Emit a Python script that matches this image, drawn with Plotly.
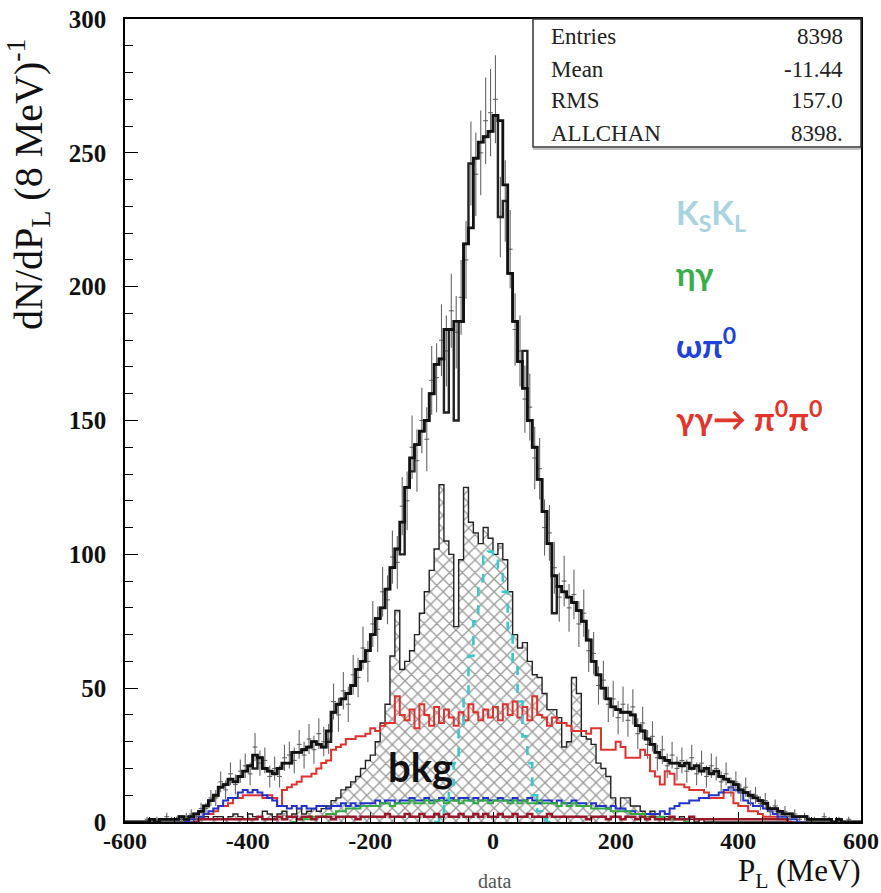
import plotly.graph_objects as go
import math

# ---------------- data (8 MeV bins from -600 to 600) ----------------
BIN_LO = -600
BIN_W = 8
N_BINS = 150

mc_total = [
    0, 0, 0, 0, 0, 1, 0, 1, 1, 1,
    1, 2, 1, 2, 3, 4, 6, 8, 10, 13,
    14, 16, 15, 17, 19, 21, 25, 24, 20, 19,
    18, 20, 22, 22, 26, 26, 27, 28, 30, 29,
    28, 34, 41, 44, 46, 48, 51, 57, 60, 64,
    70, 76, 80, 87, 95, 102, 112, 125, 136, 141,
    146, 150, 160, 171, 173, 184, 184, 187, 187, 216,
    222, 248, 254, 256, 258, 264, 262, 238, 205, 187,
    172, 162, 150, 140, 128, 116, 104, 92, 88, 86,
    84, 82, 79, 75, 68, 60, 55, 50, 46, 43,
    42, 41, 41, 40, 36, 34, 31, 29, 26, 24,
    23, 22, 22, 21, 22, 20, 21, 19, 20, 18,
    19, 17, 16, 15, 14, 12, 11, 10, 9, 8,
    7, 5, 5, 4, 3, 3, 2, 2, 2, 1,
    1, 1, 1, 1, 0, 1, 0, 0, 0, 0,
]

mc_alt = [
    0, 0, 0, 0, 0, 1, 0, 1, 1, 1,
    1, 2, 1, 2, 3, 4, 6, 8, 10, 13,
    14, 16, 15, 17, 19, 21, 20, 24, 20, 19,
    18, 20, 22, 22, 26, 26, 27, 28, 30, 29,
    28, 30, 41, 44, 46, 48, 51, 57, 60, 64,
    70, 76, 80, 87, 95, 102, 100, 125, 131, 141,
    146, 150, 160, 171, 173, 153, 184, 150, 187, 216,
    246, 248, 254, 256, 258, 264, 226, 232, 205, 187,
    172, 176, 150, 140, 128, 116, 104, 78, 88, 86,
    84, 82, 79, 75, 68, 60, 55, 50, 46, 43,
    42, 41, 41, 40, 36, 34, 31, 29, 26, 24,
    23, 22, 22, 21, 22, 20, 21, 19, 20, 18,
    19, 17, 16, 15, 14, 12, 11, 10, 9, 8,
    7, 5, 5, 4, 3, 3, 2, 2, 2, 1,
    1, 1, 1, 1, 0, 1, 0, 0, 0, 0,
]

data_counts = [
    0, 0, 0, 0, 1, 0, 1, 0, 2, 1,
    1, 1, 2, 3, 2, 5, 5, 9, 9, 15,
    12, 18, 14, 19, 21, 18, 28, 22, 23, 17,
    20, 17, 24, 25, 23, 29, 25, 31, 27, 33,
    30, 31, 45, 40, 49, 44, 55, 54, 65, 60,
    74, 72, 86, 83, 99, 97, 118, 120, 140, 135,
    150, 143, 165, 166, 180, 176, 191, 183, 196, 210,
    246, 242, 250, 262, 265, 270, 226, 232, 214, 184,
    176, 158, 155, 136, 132, 110, 108, 95, 84, 90,
    80, 85, 74, 78, 64, 63, 51, 53, 44, 46,
    39, 44, 38, 43, 33, 37, 29, 32, 24, 27,
    21, 25, 20, 23, 19, 24, 18, 22, 17, 21,
    20, 15, 18, 13, 15, 11, 13, 9, 10, 7,
    8, 4, 6, 3, 4, 2, 3, 1, 2, 1,
    1, 0, 2, 1, 0, 1, 0, 1, 0, 0,
]

bkg = [0] * 10 + [
    0, 0, 0, 0, 1, 1, 2, 1, 2, 2,
    1, 2, 3, 2, 1, 3, 2, 2, 4, 3,
    2, 3, 4, 2, 3, 5, 3, 4, 5, 4,
    5, 6, 8, 9, 12, 13, 15, 17, 20, 23,
    25, 30, 37, 44, 62, 79, 57, 60, 64, 70,
    78, 86, 94, 102, 126, 105, 100, 73, 98, 125,
    112, 108, 104, 110, 106, 100, 104, 98, 86, 70,
    65, 67, 60, 55, 54, 48, 42, 42, 39, 28,
    30, 54, 48, 32, 31, 29, 22, 20, 17, 9,
    5, 9, 9, 6, 6, 4, 3, 4, 3, 2,
    2, 1, 1, 2, 1, 1, 0, 1, 0, 0,
] + [0] * 30

kskl = [0] * 60 + [
    0, 0, 0, 0, 2, 6, 14, 22, 35, 46,
    62, 75, 90, 99, 101, 100, 95, 86, 72, 60,
    45, 32, 22, 10, 4, 1, 0, 0, 0, 0,
] + [0] * 60

gg_pi0pi0 = [0] * 12 + [
    0, 1, 1, 2, 3, 3, 4, 6,
    6, 7, 9, 9, 10, 10, 10, 10, 9, 10,
    9, 6, 12, 13, 14, 15, 17, 17, 18, 20,
    22, 23, 27, 28, 29, 31, 31, 32, 32, 33,
    35, 34, 36, 37, 37, 47, 40, 38, 42, 35,
    44, 40, 36, 43, 37, 42, 39, 36, 41, 38,
    44, 41, 38, 42, 39, 43, 38, 44, 40, 45,
    39, 43, 38, 47, 40, 39, 36, 39, 37, 37,
    36, 34, 34, 34, 33, 35, 35, 27, 27, 27,
    30, 28, 24, 24, 24, 27, 25, 19, 17, 14,
    19, 18, 14, 14, 13, 12, 12, 12, 11, 9,
    9, 9, 11, 11, 7, 6, 6, 4, 4, 3,
    2, 2, 2, 1, 1, 0, 0, 0, 0, 0,
] + [0] * 10

omega_pi0 = [0] * 10 + [
    0, 0, 0, 1, 1, 2, 3, 4, 5, 6,
    8, 9, 9, 11, 12, 11, 12, 11, 10, 9,
    8, 6, 6, 5, 6, 5, 6, 5, 5, 6,
    6, 5, 6, 6, 7, 6, 7, 6, 7, 7,
    7, 8, 7, 8, 8, 7, 8, 8, 9, 8,
    8, 9, 8, 8, 9, 8, 9, 8, 9, 9,
    8, 9, 8, 9, 8, 8, 9, 8, 8, 9,
    8, 8, 9, 8, 7, 8, 8, 7, 8, 7,
    7, 8, 7, 7, 6, 7, 6, 6, 5, 6,
    5, 5, 4, 4, 3, 3, 3, 3, 3, 4,
    3, 5, 6, 7, 7, 8, 8, 9, 9, 10,
    10, 11, 12, 13, 12, 11, 8, 7, 6, 6,
    5, 4, 3, 2, 2, 1, 1, 0, 0, 0,
] + [0] * 10

eta_gamma = [0] * 35 + [
    1, 1, 1, 2, 2,
    2, 3, 3, 4, 4, 5, 5, 5, 6, 6,
    6, 6, 7, 7, 6, 7, 7, 7, 8, 7,
    7, 8, 7, 8, 8, 7, 8, 8, 7, 8,
    8, 7, 8, 8, 7, 8, 8, 8, 7, 8,
    7, 8, 7, 7, 8, 7, 7, 7, 6, 7,
    6, 7, 6, 6, 6, 5, 5, 5, 5, 4,
    4, 4, 4, 3, 3, 3, 2, 2, 2, 2,
    1, 1, 1, 1, 0,
] + [0] * 35

other = [0] * 15 + [
    1, 1, 1, 1, 1,
    1, 1, 1, 1, 1, 1, 1, 2, 1, 1,
    1, 2, 1, 2, 2, 1, 2, 2, 1, 2,
    2, 2, 1, 2, 2, 2, 2, 1, 2, 2,
    2, 2, 2, 3, 2, 2, 2, 3, 2, 2,
    3, 2, 2, 3, 2, 3, 2, 2, 3, 2,
    2, 3, 2, 3, 2, 2, 3, 2, 2, 3,
    2, 2, 3, 2, 2, 2, 3, 2, 2, 2,
    2, 2, 2, 2, 1, 2, 2, 2, 1, 2,
    2, 1, 2, 2, 1, 2, 1, 2, 1, 1,
    1, 2, 1, 1, 1, 2, 1, 1, 1, 1,
    1, 1, 1, 1, 1, 1, 1, 1, 1, 1,
    1, 1, 1, 1, 1,
] + [0] * 15

x_ticks = [-600, -400, -200, 0, 200, 400, 600]
y_ticks = [0, 50, 100, 150, 200, 250, 300]
stats_labels = ["Entries", "Mean", "RMS", "ALLCHAN"]
stats_values = ["8398", "-11.44", "157.0", "8398."]

# ---------------- helpers ----------------
edges = [BIN_LO + BIN_W * i for i in range(N_BINS + 1)]
centers = [BIN_LO + BIN_W * (i + 0.5) for i in range(N_BINS)]


def step_xy(vals, trim=False):
    lo, hi = 0, N_BINS
    if trim:
        nz = [i for i, v in enumerate(vals) if v > 0]
        lo, hi = max(nz[0] - 1, 0), min(nz[-1] + 2, N_BINS)
    xs = [edges[lo]] + edges[lo:hi] + [edges[hi], edges[hi]]
    ys = [0] + list(vals[lo:hi]) + [vals[hi - 1], 0]
    return xs, ys


L, R, T, B = 125, 861, 19, 822
W, H = 881, 893


def px(xp):
    return (xp - L) / (R - L)


def py(yp):
    return (B - yp) / (B - T)


fig = go.Figure()

# background (hatched)
xs, ys = step_xy(bkg)
fig.add_trace(go.Scatter(
    x=xs, y=ys, mode="lines", line=dict(color="#222222", width=1.4, shape="hv"),
    fill="tozeroy", fillcolor="rgba(0,0,0,0)",
    fillpattern=dict(shape="x", fgcolor="#333333", bgcolor="rgba(255,255,255,0)",
                     size=9, solidity=0.27),
    hoverinfo="skip", showlegend=False))

for vals, col, w in [(gg_pi0pi0, "#e0322c", 2.0), (omega_pi0, "#2233cc", 2.0),
                     (eta_gamma, "#33aa44", 2.0), (other, "#99182a", 2.5)]:
    xs, ys = step_xy(vals, trim=True)
    fig.add_trace(go.Scatter(x=xs, y=ys, mode="lines",
                             line=dict(color=col, width=w, shape="hv"),
                             hoverinfo="skip", showlegend=False))

xs, ys = step_xy(kskl, trim=True)
fig.add_trace(go.Scatter(x=xs, y=ys, mode="lines",
                         line=dict(color="#3cc8c8", width=2.6, shape="hv", dash="dash"),
                         hoverinfo="skip", showlegend=False))

# data points with errors
dx = [c for c, v in zip(centers, data_counts) if v > 0]
dy = [v for v in data_counts if v > 0]
de = [math.sqrt(v) for v in dy]
fig.add_trace(go.Scatter(
    x=dx, y=dy, mode="markers", marker=dict(size=1, color="#555555"),
    error_y=dict(type="data", array=de, color="#666666", thickness=1.1, width=0),
    error_x=dict(type="constant", value=BIN_W / 2, color="#666666", thickness=1.1, width=0),
    hoverinfo="skip", showlegend=False))

# MC totals (thick black)
for vals, col, w in [(mc_alt, "#222222", 2.4), (mc_total, "#111111", 2.8)]:
    xs, ys = step_xy(vals)
    fig.add_trace(go.Scatter(x=xs, y=ys, mode="lines",
                             line=dict(color=col, width=w, shape="hv"),
                             hoverinfo="skip", showlegend=False))

serif = "Liberation Serif"
fig.update_layout(
    width=W, height=H,
    margin=dict(l=L, r=W - R, t=T, b=H - B, autoexpand=False),
    plot_bgcolor="white", paper_bgcolor="white",
    showlegend=False,
    xaxis=dict(range=[-600, 600], tickvals=x_ticks, ticktext=[str(v) for v in x_ticks],
               automargin=False,
               ticks="inside", ticklen=10, tickwidth=1.3, tickcolor="black",
               minor=dict(ticks="inside", ticklen=5, dtick=40, tickcolor="black"),
               showline=True, linecolor="black", linewidth=1.5, mirror=True,
               showgrid=False, zeroline=False, ticklabelstandoff=-4,
               tickfont=dict(family=serif, size=24, color="#111111", weight="bold")),
    yaxis=dict(range=[0, 300], tickvals=y_ticks, ticktext=[str(v) for v in y_ticks],
               automargin=False,
               ticks="inside", ticklen=13, tickwidth=1.3, tickcolor="black",
               minor=dict(ticks="inside", ticklen=8, dtick=10, tickcolor="black"),
               showline=True, linecolor="black", linewidth=1.5, mirror=True,
               showgrid=False, zeroline=False, ticklabelstandoff=12,
               tickfont=dict(family=serif, size=25, color="#111111", weight="bold")),
)

# stats box
fig.add_shape(type="rect", xref="paper", yref="paper",
              x0=px(533), x1=px(861), y0=py(147), y1=py(19),
              fillcolor="white", line=dict(color="#333333", width=1.5), layer="above")
fig.add_shape(type="line", xref="paper", yref="paper",
              x0=px(533), x1=px(861), y0=py(149), y1=py(149),
              line=dict(color="#888888", width=1.2), layer="above")
for i, (lab, val) in enumerate(zip(stats_labels, stats_values)):
    yc = 37 + i * 32
    fig.add_annotation(xref="paper", yref="paper", x=px(549), y=py(yc), text=lab,
                       showarrow=False, xanchor="left", yanchor="middle",
                       font=dict(family=serif, size=23, color="#222222"))
    fig.add_annotation(xref="paper", yref="paper", x=px(845), y=py(yc), text=val,
                       showarrow=False, xanchor="right", yanchor="middle",
                       font=dict(family=serif, size=23, color="#222222"))

# axis titles
fig.add_annotation(xref="paper", yref="paper", x=px(28), y=py(184),
                   text="dN/dP<sub>L</sub> (8 MeV)<sup>-1</sup>", textangle=-90,
                   showarrow=False, xanchor="center", yanchor="middle",
                   font=dict(family=serif, size=40, color="#111111"))
fig.add_annotation(xref="paper", yref="paper", x=px(863), y=py(873),
                   text="P<sub>L</sub> (MeV)", showarrow=False,
                   xanchor="right", yanchor="middle",
                   font=dict(family=serif, size=31, color="#111111"))
fig.add_annotation(xref="paper", yref="paper", x=px(495), y=py(881), text="data",
                   showarrow=False, xanchor="center", yanchor="middle",
                   font=dict(family=serif, size=20, color="#555555"))

# component labels
sans = "Lato"
for txt, col, yc in [("K<sub>S</sub>K<sub>L</sub>", "#a8d4df", 215),
                     ("ηγ", "#3aae48", 273),
                     ("ωπ<sup>0</sup>", "#2142d6", 343),
                     ("γγ→ π<sup>0</sup>π<sup>0</sup>", "#e2352b", 416)]:
    fig.add_annotation(xref="paper", yref="paper", x=px(674), y=py(yc), text=f"<b>{txt}</b>",
                       showarrow=False, xanchor="left", yanchor="middle",
                       font=dict(family=sans, size=33, color=col))

fig.add_annotation(xref="paper", yref="paper", x=px(420), y=py(767), text="<b>bkg</b>",
                   showarrow=False, xanchor="center", yanchor="middle",
                   font=dict(family=sans, size=40, color="#111111"))

fig.write_html("out.html")
